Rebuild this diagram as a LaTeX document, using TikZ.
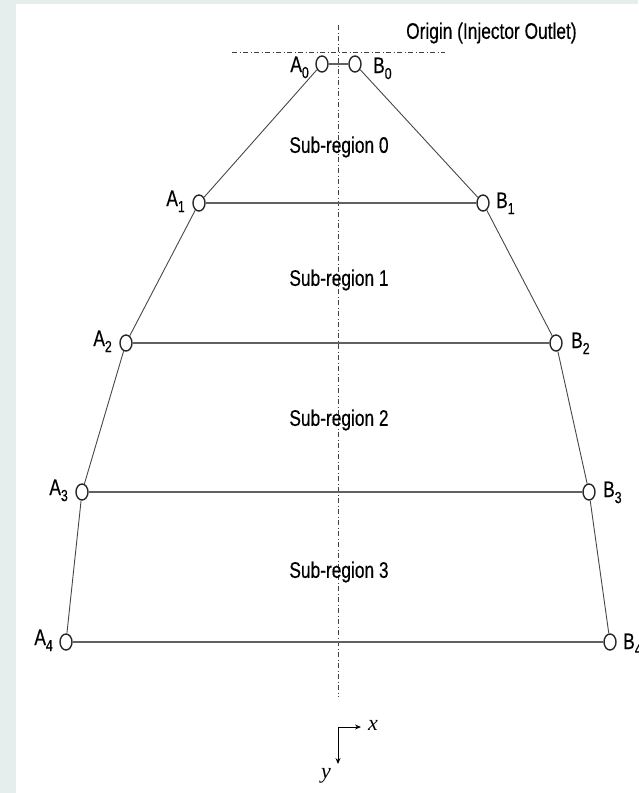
\documentclass[tikz,border=0pt]{standalone}
\usepackage{fontspec}
\setmainfont{Liberation Sans}[FakeStretch=0.77,FakeBold=0.4]
\newfontfamily\axisfont{Liberation Serif}
\usetikzlibrary{shapes.geometric,arrows.meta}
\definecolor{stripgray}{RGB}{229,237,237}
\newcommand\ptlab[2]{#1\raisebox{-0.27em}{\fontsize{16}{16}\selectfont #2}}
\tikzset{
  pt/.style={ellipse, draw=black!85, line width=1.4pt, fill=white,
             minimum width=12pt, minimum height=16pt, inner sep=0pt},
  lbl/.style={font=\fontsize{22.5}{22.5}\selectfont, text=black, inner sep=0pt},
  side/.style={draw=black!72, line width=0.9pt},
  chord/.style={draw=black!62, line width=2pt},
  axisline/.style={draw=black!75, line width=0.8pt,
                   dash pattern=on 5pt off 2.5pt on 1pt off 2.5pt},
  coordarrow/.style={draw=black, line width=0.9pt, -{Stealth[length=6pt,width=5pt]}}
}
\begin{document}
\begin{tikzpicture}[x=1pt,y=-1pt]
\useasboundingbox (0,0) rectangle (638,793);
\fill[white] (0,0) rectangle (638,793);
\fill[stripgray] (0,0) rectangle (16,793);
\fill[stripgray] (0,0) rectangle (638,4);

% axes (dash-dot)
\coordinate (vtop) at (338,25);
\coordinate (vbot) at (338,697);
\coordinate (hl) at (232,52);
\coordinate (hr) at (445,52);
\draw[axisline] (vtop) -- (vbot);
\draw[axisline] (hl) -- (hr);

% points
\node[pt] (A0) at (322,64) {};
\node[pt] (B0) at (355,64) {};
\node[pt] (A1) at (199,203) {};
\node[pt] (B1) at (483,203) {};
\node[pt] (A2) at (126,343) {};
\node[pt] (B2) at (556,343) {};
\node[pt] (A3) at (82,492) {};
\node[pt] (B3) at (589,492) {};
\node[pt] (A4) at (66,642) {};
\node[pt] (B4) at (610,642) {};

% chords
\draw[chord] (A0) -- (B0);
\draw[chord] (A1) -- (B1);
\draw[chord] (A2) -- (B2);
\draw[chord] (A3) -- (B3);
\draw[chord] (A4) -- (B4);

% sides
\draw[side] (A0) -- (A1) -- (A2) -- (A3) -- (A4);
\draw[side] (B0) -- (B1) -- (B2) -- (B3) -- (B4);

% point labels
\node[lbl, anchor=base east] (lA0) at (309,72) {\ptlab{A}{0}};
\node[lbl, anchor=base west] (lB0) at (373,73) {\ptlab{B}{0}};
\node[lbl, anchor=base east] (lA1) at (185,206) {\ptlab{A}{1}};
\node[lbl, anchor=base west] (lB1) at (496,208) {\ptlab{B}{1}};
\node[lbl, anchor=base east] (lA2) at (112,346) {\ptlab{A}{2}};
\node[lbl, anchor=base west] (lB2) at (571,348) {\ptlab{B}{2}};
\node[lbl, anchor=base east] (lA3) at (68,495) {\ptlab{A}{3}};
\node[lbl, anchor=base west] (lB3) at (603,497) {\ptlab{B}{3}};
\node[lbl, anchor=base east] (lA4) at (53,645) {\ptlab{A}{4}};
\node[lbl, anchor=base west] (lB4) at (623,649) {\ptlab{B}{4}};

% region labels
\node[lbl] (r0) at (339,147) {Sub-region 0};
\node[lbl] (r1) at (339,280) {Sub-region 1};
\node[lbl] (r2) at (339,420) {Sub-region 2};
\node[lbl] (r3) at (339,572) {Sub-region 3};
\node[lbl, anchor=west] (origin) at (406,33) {Origin (Injector Outlet)};

% coordinate system
\coordinate (corner) at (338,727);
\coordinate (xend) at (361,727);
\coordinate (yend) at (338,764);
\draw[coordarrow] (corner) -- (xend);
\draw[coordarrow] (corner) -- (yend);
\node[font=\axisfont\itshape\fontsize{22}{22}\selectfont, inner sep=0pt] (xl) at (373,725) {x};
\node[font=\axisfont\itshape\fontsize{22}{22}\selectfont, inner sep=0pt] (yl) at (326,776) {y};
\end{tikzpicture}
\end{document}
